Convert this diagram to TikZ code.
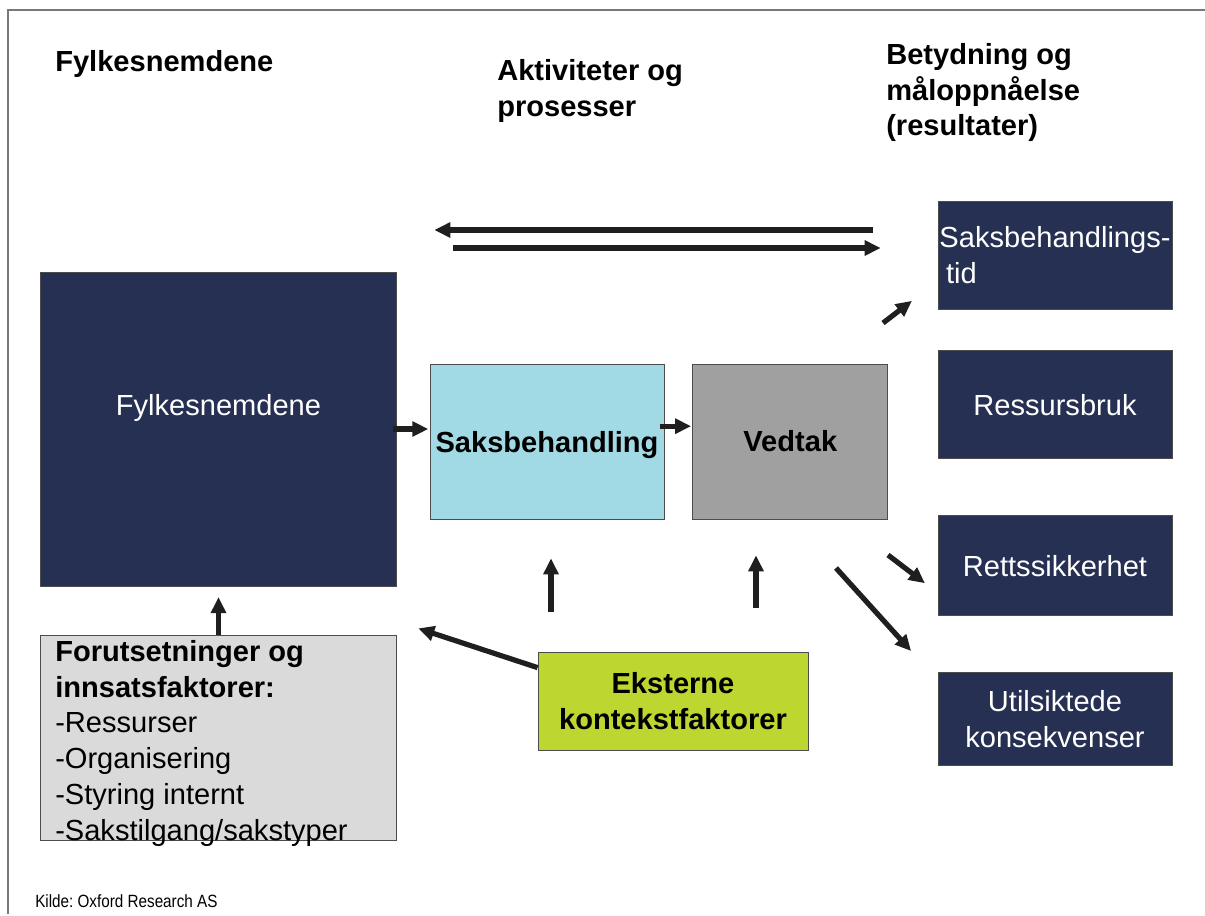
\documentclass[tikz,border=0pt]{standalone}
\usepackage{fontspec}
\setmainfont{Liberation Sans}
\newfontfamily\kildefont[FakeStretch=0.86]{Liberation Sans}
\usetikzlibrary{arrows.meta,positioning}

\definecolor{navy}{RGB}{38,48,82}
\definecolor{saksblue}{RGB}{161,217,229}
\definecolor{vedtakgray}{RGB}{160,160,160}
\definecolor{eksgreen}{RGB}{190,214,48}
\definecolor{premgray}{RGB}{218,218,218}
\definecolor{framegray}{RGB}{120,120,120}

\begin{document}
\begin{tikzpicture}[x=0.75pt,y=-0.75pt,>={Triangle[length=12pt,width=11pt]},shorten >=1pt,
    node distance=30.75pt,
    every node/.style={font=\fontsize{21.8}{26.85}\selectfont},
    bold text/.style={font=\fontsize{21.8}{26.85}\selectfont\bfseries},
    main box/.style={rectangle,draw=black!70,line width=0.6pt,inner sep=0pt},
    dark box/.style={main box,fill=navy,text=white,minimum width=175.5pt},
    head/.style={bold text,align=left,anchor=north west,inner sep=0pt}]

    \useasboundingbox (0,0) rectangle (1205,915);
    \draw[framegray,line width=1pt] (1205,10) -- (8,10) -- (8,915);

    % overskrifter
    \node[head,anchor=base west] (hfylke) at (55,71) {Fylkesnemdene};
    \node[head] (haktiv) at (497,59) {Aktiviteter og\\prosesser};
    \node[head] (hbetyd) at (886,43) {Betydning og\\måloppnåelse\\(resultater)};

    % bokser
    \node[dark box,minimum width=267pt,minimum height=235.5pt,text height=15.75pt,text depth=36pt] (fylke) at (218.5,429) {Fylkesnemdene};
    \node[main box,bold text,fill=saksblue,minimum width=175.5pt,minimum height=116.25pt,text height=16.4pt,text depth=0pt] (saks) at (547,441.5) {Saksbehandling};
    \node[main box,bold text,fill=vedtakgray,minimum width=146.25pt,minimum height=116.25pt,right=21pt of saks] (vedtak) {Vedtak};

    \node[dark box,minimum height=81pt,align=left] (tid) at (1055,255) {Saksbehandlings-\\\hspace*{5pt}tid};
    \node[dark box,minimum height=81pt,below=of tid] (ressurs) {Ressursbruk};
    \node[dark box,minimum height=75pt,below=42pt of ressurs] (retts) {Rettssikkerhet};
    \node[dark box,minimum height=69.75pt,below=42pt of retts,align=center] (utilsikt) {Utilsiktede\\konsekvenser};

    \node[main box,fill=premgray,minimum width=267pt,minimum height=153.75pt] (prem) at (218.5,737.5) {};
    \node[anchor=north west,align=left,inner sep=0pt] (premtxt) at (55,640) {\textbf{Forutsetninger og}\\\textbf{innsatsfaktorer:}\\-Ressurser\\-Organisering\\-Styring internt\\-Sakstilgang/sakstyper};
    \node[main box,bold text,fill=eksgreen,minimum width=202.5pt,minimum height=73.5pt,align=center] (ekstern) at (673,701) {Eksterne\\kontekstfaktorer};

    \node[anchor=base west,inner sep=0pt,font=\kildefont\fontsize{13.3}{16}\selectfont\frenchspacing] (kilde) at (35,907.5) {Kilde: Oxford Research AS};

    % frie ender
    \coordinate (topl1) at (873,230);
    \coordinate (topl2) at (433,230);
    \coordinate (topr1) at (453,248);
    \coordinate (topr2) at (882,248);
    \coordinate (tidstart) at (883,323);
    \coordinate (tidend) at (913,300);
    \coordinate (rettsstart) at (888,555);
    \coordinate (rettsend) at (926,584);
    \coordinate (utilstart) at (836,568);
    \coordinate (utilend) at (912,652);
    \coordinate (up1s) at (551,612);
    \coordinate (up1e) at (551,557);
    \coordinate (up2s) at (756,608);
    \coordinate (up2e) at (756,554);
    \coordinate (eksend) at (417,628);

    \path[->,line width=3.9pt,color=black!88]
        (topl1) edge (topl2)
        (topr1) edge (topr2)
        ([xshift=-3pt]fylke.east) edge (fylke.east -| saks.west)
        ([xshift=-3.5pt,yshift=11.5pt]saks.east) edge ([yshift=11.5pt]vedtak.west)
        (tidstart) edge (tidend)
        (rettsstart) edge (rettsend)
        (utilstart) edge (utilend)
        (up1s) edge (up1e)
        (up2s) edge (up2e)
        (prem.north) edge[shorten >=8pt] (prem.north |- fylke.south)
        ([yshift=-12pt]ekstern.north west) edge (eksend);
\end{tikzpicture}
\end{document}
